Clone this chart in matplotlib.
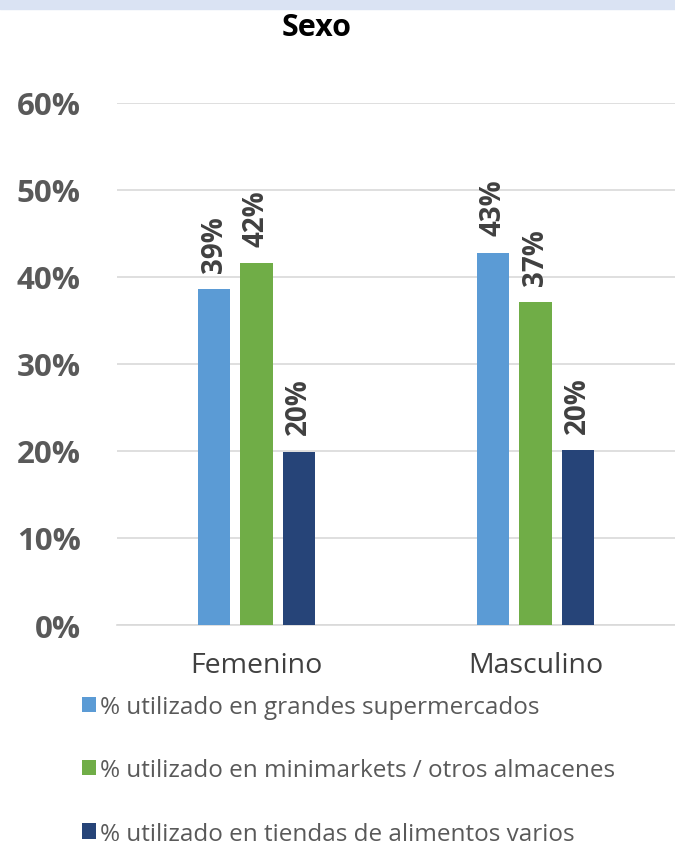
import numpy as np
import matplotlib.pyplot as plt
from matplotlib.patches import Rectangle

plt.rcParams['font.family'] = ['Open Sans', 'DejaVu Sans']

# datos
categorias = ['Femenino', 'Masculino']
series = ['% utilizado en grandes supermercados',
          '% utilizado en minimarkets / otros almacenes',
          '% utilizado en tiendas de alimentos varios']
grandes = [0.386, 0.428]
minimarkets = [0.416, 0.371]
tiendas = [0.199, 0.201]
etiquetas = [['39%', '43%'], ['42%', '37%'], ['20%', '20%']]
colores = ['#5B9BD5', '#70AD47', '#264478']

fig = plt.figure(figsize=(6.75, 8.45), dpi=100)
# franja superior
fig.patches.append(Rectangle((0, 1 - 10 / 845), 1, 10 / 845, transform=fig.transFigure,
                             color='#DAE3F3', zorder=0))

ax = fig.add_axes([117 / 675, 219 / 845, 558 / 675, 522 / 845])
x = np.array([0.5, 1.5])
ancho = 0.116
desp = 0.152
valores = [grandes, minimarkets, tiendas]
barras = []
for i, (v, c) in enumerate(zip(valores, colores)):
    b = ax.bar(x + (i - 1) * desp, v, ancho, color=c, label=series[i], zorder=3)
    barras.append(b)
    for j, r in enumerate(b):
        ax.text(r.get_x() + r.get_width() / 2, r.get_height() + 0.02, etiquetas[i][j],
                rotation=90, ha='center', va='bottom', fontsize=20, fontweight='bold',
                color='#404040')

ax.set_xlim(0, 2)
ax.set_ylim(0, 0.6)
ax.set_yticks(np.arange(0, 0.61, 0.1))
ax.set_yticklabels([f'{int(round(t * 100))}%' for t in np.arange(0, 0.61, 0.1)],
                   fontsize=22.5, fontweight='bold', color='#595959')
ax.set_xticks(x)
ax.set_xticklabels(categorias, fontsize=20.5, color='#404040')
ax.tick_params(axis='x', length=0, pad=19)
ax.tick_params(axis='y', length=0, pad=26)
ax.grid(axis='y', color='#D9D9D9', lw=1.2, zorder=0)
for s in ['top', 'right', 'left']:
    ax.spines[s].set_visible(False)
ax.spines['bottom'].set_color('#D9D9D9')
ax.spines['bottom'].set_linewidth(1.2)

fig.text(317 / 675, 1 - 28 / 845, 'Sexo', ha='center', va='center', fontsize=22,
         fontweight='bold', color='black')

fig.legend(handles=barras, loc='upper left', bbox_to_anchor=(60 / 675, 1 - 674 / 845),
           frameon=False, fontsize=17.5, labelcolor='#595959', handlelength=0.6,
           handleheight=0.6, handletextpad=0.15, labelspacing=1.62)

fig.savefig('out.png', dpi=100)
